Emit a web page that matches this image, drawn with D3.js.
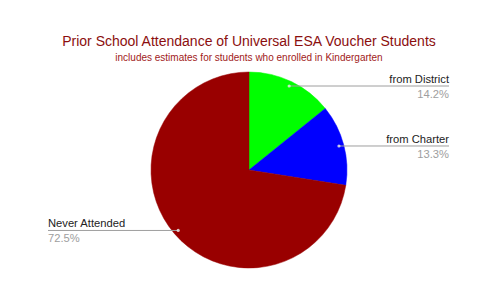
<!DOCTYPE html>
<html>
<head>
<meta charset="utf-8">
<script src="https://cdn.jsdelivr.net/npm/d3@7"></script>
<style>
  html, body { margin: 0; padding: 0; background: #fff; }
  svg { display: block; }
  text { font-family: "Liberation Sans", Arial, sans-serif; }
</style>
</head>
<body>
<svg id="chart" width="479" height="296"></svg>
<script>
// Prior school attendance shares (percent of universal ESA voucher students)
const categories = ["from District", "from Charter", "Never Attended"];
const shares = [14.2, 13.3, 72.5];
const sliceColors = ["#00ff00", "#0000ff", "#990000"];
const shareLabels = ["14.2%", "13.3%", "72.5%"];

const title = "Prior School Attendance of Universal ESA Voucher Students";
const subtitle = "includes estimates for students who enrolled in Kindergarten";

const W = 479, H = 296;
const cx = 249, cy = 170, radius = 98;
const svg = d3.select("#chart");

svg.append("text")
  .attr("x", 249).attr("y", 46)
  .attr("text-anchor", "middle")
  .attr("font-size", 14)
  .attr("fill", "#8b0e0e")
  .text(title);

svg.append("text")
  .attr("x", 249).attr("y", 61)
  .attr("text-anchor", "middle")
  .attr("font-size", 10)
  .attr("fill", "#a11a1a")
  .text(subtitle);

const rows = categories.map((c, i) => ({ name: c, value: shares[i], color: sliceColors[i], pct: shareLabels[i] }));

const pie = d3.pie().sort(null).value(d => d.value);
const arcs = pie(rows);
const arc = d3.arc().innerRadius(0).outerRadius(radius);
const dotArc = d3.arc().innerRadius(radius * 0.95).outerRadius(radius * 0.95);

const g = svg.append("g").attr("transform", `translate(${cx},${cy})`);
g.selectAll("path.slice")
  .data(arcs)
  .join("path")
  .attr("class", "slice")
  .attr("d", arc)
  .attr("fill", d => d.data.color)
  .attr("stroke", d => d.data.color)
  .attr("stroke-width", 0.5);

// Leader lines: horizontal from a dot inside each slice to the label column
const rightEdge = 449, leftEdge = 48;
arcs.forEach(a => {
  const [dx, dy] = dotArc.centroid(a);
  const px = cx + dx, py = cy + dy;
  const onRight = dx > 0;
  const endX = onRight ? rightEdge : leftEdge;
  svg.append("line")
    .attr("x1", px).attr("y1", py).attr("x2", endX).attr("y2", py)
    .attr("stroke", "#9e9e9e").attr("stroke-width", 1);
  svg.append("circle")
    .attr("cx", px).attr("cy", py).attr("r", 1.6)
    .attr("fill", "#e6e6e6").attr("opacity", 0.85);
  const anchor = onRight ? "end" : "start";
  svg.append("text")
    .attr("x", endX).attr("y", py - 3)
    .attr("text-anchor", anchor)
    .attr("font-size", 11.2)
    .attr("fill", "#222")
    .text(a.data.name);
  svg.append("text")
    .attr("x", endX).attr("y", py + 12)
    .attr("text-anchor", anchor)
    .attr("font-size", 11.2)
    .attr("fill", "#9e9e9e")
    .text(a.data.pct);
});
</script>
</body>
</html>
